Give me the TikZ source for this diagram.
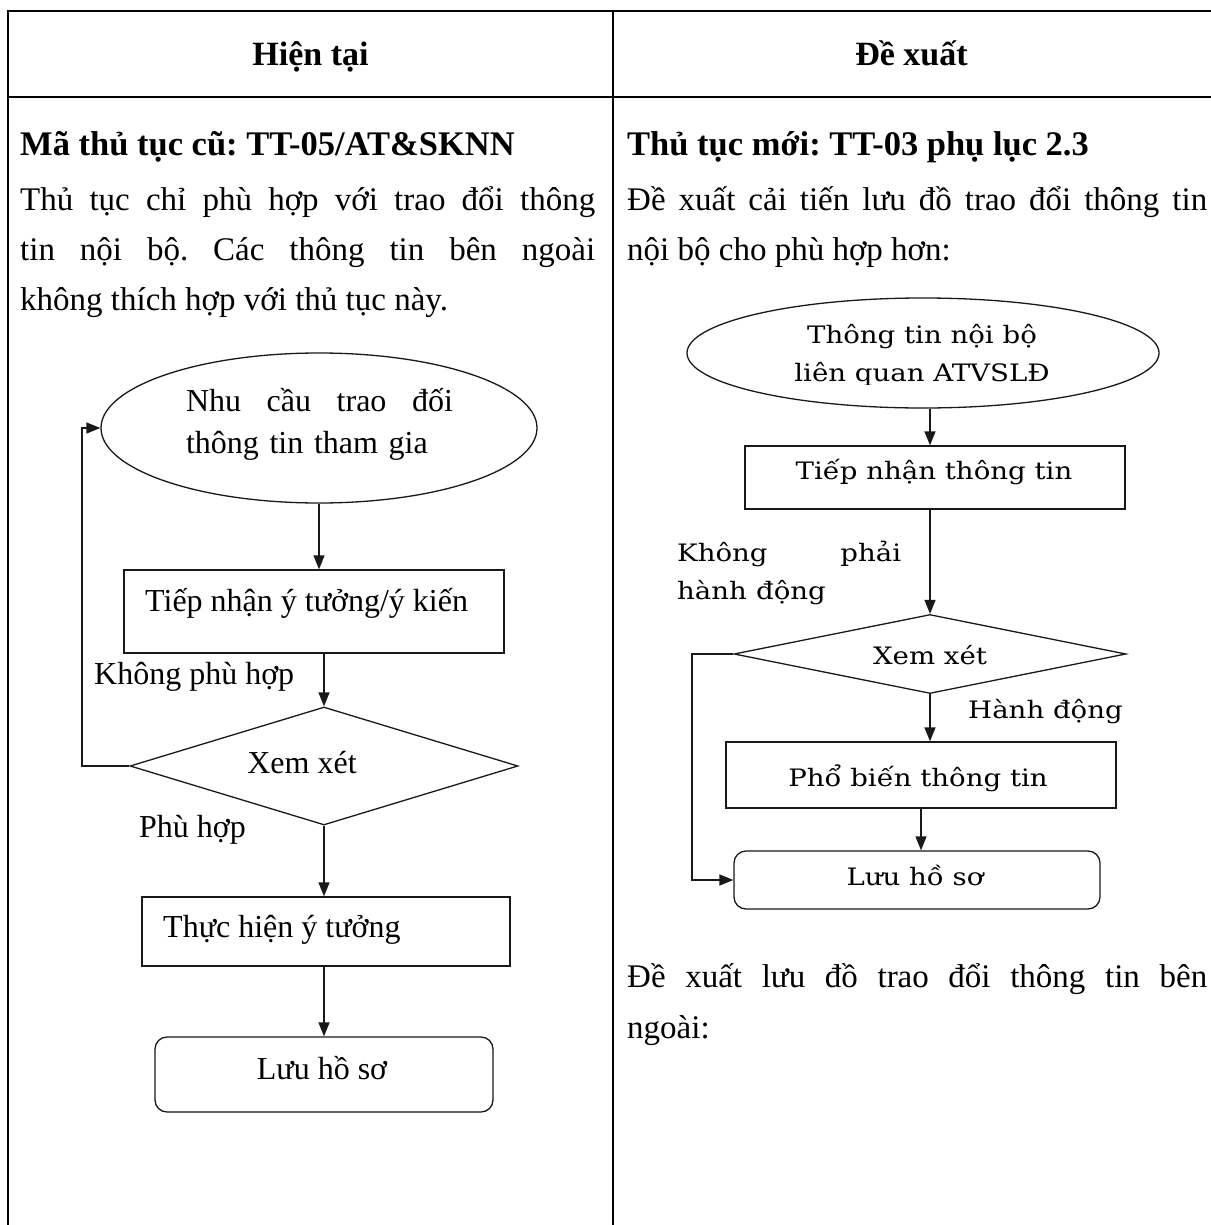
\documentclass[tikz,border=0pt]{standalone}
\usepackage{fontspec}
\usepackage{graphicx}
\setmainfont{Liberation Serif}
\newfontfamily\chartserif{DejaVu Serif}
\usetikzlibrary{arrows.meta,shapes.geometric}
\newcommand\widetxt[1]{\scalebox{1.15}[1]{#1}}
\frenchspacing
\begin{document}
\begin{tikzpicture}[x=1pt,y=-1pt,
  gridline/.style={line width=2pt},
  flow/.style={line width=1.3pt, draw=black!90},
  arr/.style={flow, -{Triangle[length=14pt,width=11pt]}},
  hdr/.style={font=\bfseries\fontsize{34}{50}\selectfont, inner sep=0pt, anchor=base},
  bodyb/.style={font=\bfseries\fontsize{34.5}{50}\selectfont, inner sep=0pt, anchor=base west},
  bodyt/.style={font=\fontsize{33}{50}\selectfont, inner sep=0pt, anchor=base west},
  ltxt/.style={font=\fontsize{32}{42}\selectfont, inner sep=0pt},
  rtxt/.style={font=\chartserif\fontsize{24}{38}\selectfont, inner sep=0pt},
  procbox/.style={flow, rectangle, inner sep=0pt},
  endbox/.style={flow, rectangle, rounded corners=12pt, inner sep=0pt},
  startell/.style={flow, ellipse, inner sep=0pt},
  decide/.style={flow, diamond, inner sep=0pt},
]
\fill[white] (0,0) rectangle (1210,1225);
\useasboundingbox (0,0) rectangle (1210,1225);

% table frame
\draw[gridline] (8,1230) -- (8,11) -- (1215,11);
\draw[gridline] (8,97) -- (1215,97);
\draw[gridline] (613,11) -- (613,1230);

% header row
\node[hdr] (h1) at (310.5,66) {Hiện tại};
\node[hdr] (h2) at (911.5,66) {Đề xuất};

% left column text
\node[bodyb] (lcode) at (20,156) {Mã thủ tục cũ: TT-05/AT\&SKNN};
\node[bodyt] (lp1) at (20,210) {\makebox[575pt][s]{Thủ tục chỉ phù hợp với trao đổi thông}};
\node[bodyt] (lp2) at (20,260) {\makebox[575pt][s]{tin nội bộ. Các thông tin bên ngoài}};
\node[bodyt] (lp3) at (20,310) {không thích hợp với thủ tục này.};

% right column text
\node[bodyb] (rcode) at (627,156) {Thủ tục mới: TT-03 phụ lục 2.3};
\node[bodyt] (rp1) at (627,210) {\makebox[580pt][s]{Đề xuất cải tiến lưu đồ trao đổi thông tin}};
\node[bodyt] (rp2) at (627,260) {nội bộ cho phù hợp hơn:};
\node[bodyt] (rp3) at (627,987) {\makebox[580pt][s]{Đề xuất lưu đồ trao đổi thông tin bên}};
\node[bodyt] (rp4) at (627,1038) {ngoài:};

% ---- current procedure flowchart ----
\node[startell, minimum width=436pt, minimum height=150pt] (lstart) at (319,428) {};
\node[ltxt, text width=267pt, align=left] (lstarttxt) at (319.5,424)
  {\makebox[267pt][s]{Nhu\hfill cầu\hfill trao\hfill đối}\\thông tin tham gia};
\node[procbox, minimum width=380pt, minimum height=83pt] (lrecv) at (314,611.5) {};
\node[ltxt, anchor=west] (lrecvtxt) at (145,603) {Tiếp nhận ý tưởng/ý kiến};
\node[decide, minimum width=388pt, minimum height=118pt] (ldec) at (324,766) {};
\node[ltxt] (ldectxt) at (302,763) {Xem xét};
\node[procbox, minimum width=368pt, minimum height=69pt] (ldo) at (326,931.5) {};
\node[ltxt, anchor=west] (ldotxt) at (163,930) {Thực hiện ý tưởng};
\node[endbox, minimum width=338pt, minimum height=75pt] (lsave) at (324,1074.5) {};
\node[ltxt] (lsavetxt) at (322,1068) {Lưu hồ sơ};
\node[ltxt, anchor=west] (lno) at (94,677) {Không phù hợp};
\node[ltxt, anchor=west] (lyes) at (139,830) {Phù hợp};
\coordinate (lloop) at (82,0);

\draw[arr] (lstart.south) -- (lstart.south |- lrecv.north);
\draw[arr] (lrecv.south -| ldec.north) -- (ldec.north);
\draw[arr] (ldec.south) -- (ldec.south |- ldo.north);
\draw[arr] (ldo.south -| lsave.north) -- (lsave.north);
\draw[arr] (ldec.west) -- (ldec.west -| lloop) |- (lstart.west);

% ---- proposed procedure flowchart ----
\node[startell, minimum width=472pt, minimum height=110pt] (rstart) at (923,353) {};
\begin{scope}
  % the text frame of the start shape cuts off the descenders of its last line
  \clip (680,290) rectangle (1165,384);
  \node[rtxt, align=center] (rstarttxt) at (922,355)
    {\widetxt{Thông tin nội bộ}\\\widetxt{liên quan ATVSLĐ}};
\end{scope}
\node[procbox, minimum width=380pt, minimum height=63pt] (rrecv) at (935,477.5) {};
\node[rtxt] (rrecvtxt) at (934,472) {\widetxt{Tiếp nhận thông tin}};
\node[decide, minimum width=392pt, minimum height=79pt] (rdec) at (930,654) {};
\node[rtxt] (rdectxt) at (930,655) {\widetxt{Xem xét}};
\node[procbox, minimum width=390pt, minimum height=66pt] (rspread) at (921,775) {};
\node[rtxt] (rspreadtxt) at (918,778) {\widetxt{Phổ biến thông tin}};
\node[endbox, minimum width=366pt, minimum height=58pt] (rsave) at (917,880) {};
\node[rtxt] (rsavetxt) at (915,876) {\widetxt{Lưu hồ sơ}};
\node[rtxt, anchor=west, text width=224pt, align=left] (rno) at (677,573)
  {\makebox[224pt][s]{\widetxt{Không}\hfill\widetxt{phải}}\\\widetxt{hành động}};
\node[rtxt, anchor=west] (ryes) at (968,712) {\widetxt{Hành động}};
\coordinate (rloop) at (692,0);

\draw[arr] (rstart.south -| rdec.north) -- (rdec.north |- rrecv.north);
\draw[arr] (rrecv.south -| rdec.north) -- (rdec.north);
\draw[arr] (rdec.south) -- (rdec.south |- rspread.north);
\draw[arr] (rspread.south) -- (rspread.south |- rsave.north);
\draw[arr] (rdec.west) -- (rdec.west -| rloop) |- (rsave.west);
\end{tikzpicture}
\end{document}
